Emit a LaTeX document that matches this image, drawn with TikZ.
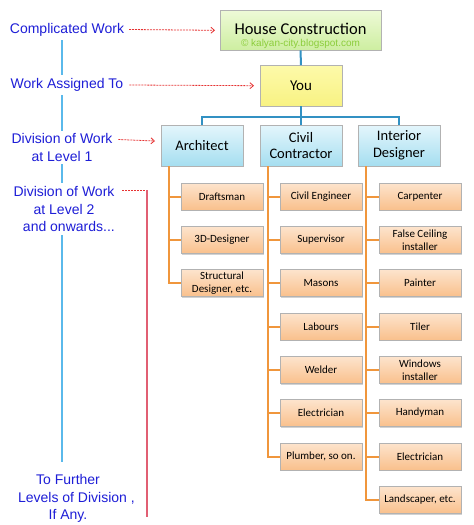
\documentclass[tikz,border=0pt]{standalone}
\usepackage{fontspec}
\setmainfont{Carlito}
\newfontfamily\arialf{Liberation Sans}
\usetikzlibrary{arrows.meta,shadows}
\definecolor{lblue}{RGB}{30,30,215}
\definecolor{vline}{RGB}{90,185,235}
\definecolor{redd}{RGB}{230,50,50}
\definecolor{pinkl}{RGB}{225,95,115}
\definecolor{steel}{RGB}{50,145,195}
\definecolor{orl}{RGB}{240,150,60}
\definecolor{wmark}{RGB}{140,205,60}
\tikzset{
  every node/.style={inner sep=0pt, outer sep=0pt},
  lab/.style={text=lblue, font=\arialf\fontsize{14}{17.5}\selectfont, align=center, fill=white, inner sep=3pt},
  hcbox/.style={draw=black!30, line width=0.6pt, top color={rgb,255:red,238;green,250;blue,215}, bottom color={rgb,255:red,205;green,238;blue,160}, minimum width=161pt, minimum height=40pt, drop shadow={shadow xshift=1pt, shadow yshift=-1pt, opacity=0.3}},
  youbox/.style={draw=black!30, line width=0.6pt, top color={rgb,255:red,253;green,250;blue,170}, bottom color={rgb,255:red,248;green,242;blue,130}, minimum width=82pt, minimum height=41pt, font=\fontsize{15}{17}\selectfont, drop shadow={shadow xshift=1pt, shadow yshift=-1pt, opacity=0.3}},
  lvone/.style={draw=black!30, line width=0.6pt, top color={rgb,255:red,228;green,246;blue,252}, bottom color={rgb,255:red,165;green,222;blue,240}, minimum width=82pt, minimum height=41pt, align=center, font=\fontsize{14.5}{16.7}\selectfont, drop shadow={shadow xshift=1pt, shadow yshift=-1pt, opacity=0.3}},
  lvtwo/.style={draw=black!30, line width=0.6pt, top color={rgb,255:red,253;green,228;blue,205}, bottom color={rgb,255:red,249;green,192;blue,140}, minimum width=82pt, minimum height=27pt, align=center, font=\fontsize{11}{12.7}\selectfont, drop shadow={shadow xshift=1.2pt, shadow yshift=-1.2pt, opacity=0.35}},
  topline/.style={draw=steel, line width=2pt},
  orline/.style={draw=orl, line width=2pt},
  redarr/.style={draw=redd, line width=0.8pt, dash pattern=on 2pt off 1pt, -{Straight Barb[length=3.5pt,width=6pt]}},
  reddash/.style={draw=redd, line width=0.8pt, dash pattern=on 2pt off 1pt},
  pinkline/.style={draw=pinkl, line width=1.2pt},
  blueline/.style={draw=vline, line width=1.3pt},
}
\begin{document}
\begin{tikzpicture}[x=1pt,y=-1pt]
\useasboundingbox[fill=white] (0,0) rectangle (474,525);

% left vertical guide line
\coordinate (vt) at (62,40);
\coordinate (vb) at (62,462);
\draw[blueline] (vt) -- (vb);

% pink line for level 2 onwards
\coordinate (r1) at (122,190);
\coordinate (r2) at (147,190);
\coordinate (r3) at (147,517);
\draw[reddash] (r1) -- (r2);
\draw[pinkline] (r2) -- (r3);

% left labels
\node[lab] (cw) at (67,29.5) {Complicated Work};
\node[lab] (wa) at (67,85) {Work Assigned To};
\node[lab] (d1) at (62,147.5) {Division of Work\\at Level 1};
\node[lab] (d2) at (64,209) {Division of Work\\at Level 2\\\hspace*{0.7em}and onwards...};
\node[lab] (fl) at (68,498.5) {To Further\\\hspace*{1.2em}Levels of Division ,\\If Any.};

% tree
\node[hcbox] (hc) at (300.5,30.3) {};
\node[font=\fontsize{16.5}{18}\selectfont] (hct) at (300.5,29) {House Construction};
\node[font=\arialf\fontsize{10}{12}\selectfont, text=wmark] (wm) at (300.5,43.5) {\textcopyright{} kalyan-city.blogspot.com};
\node[youbox] (you) at (301,85.7) {You};

\node[lvone] (arch) at (202,145.5) {Architect};
\node[lvone] (civ) at (301,145.5) {Civil\\Contractor};
\node[lvone] (int) at (399,145.5) {Interior\\Designer};

\coordinate (bus) at (301,117);
\draw[topline] (hc.south) -- (you.north);
\draw[topline] (you.south) -- (bus);
\draw[topline] (arch.north) |- (bus) -| (int.north);
\draw[topline] (bus) -- (civ.north);

% level 2 boxes
\node[lvtwo] (a1) at (222,196.5) {Draftsman};
\node[lvtwo] (a2) at (222,240) {3D-Designer};
\node[lvtwo] (a3) at (222,283) {Structural\\Designer, etc.};

\node[lvtwo] (c1) at (321,196.5) {Civil Engineer};
\node[lvtwo] (c2) at (321,240) {Supervisor};
\node[lvtwo] (c3) at (321,283) {Masons};
\node[lvtwo] (c4) at (321,326.5) {Labours};
\node[lvtwo] (c5) at (321,370) {Welder};
\node[lvtwo] (c6) at (321,413) {Electrician};
\node[lvtwo] (c7) at (321,456.5) {Plumber, so on.};

\node[lvtwo] (i1) at (420,196.5) {Carpenter};
\node[lvtwo] (i2) at (420,240) {False Ceiling\\installer};
\node[lvtwo] (i3) at (420,283) {Painter};
\node[lvtwo] (i4) at (420,326.5) {Tiler};
\node[lvtwo] (i5) at (420,370) {Windows\\installer};
\node[lvtwo] (i6) at (420,413) {Handyman};
\node[lvtwo] (i7) at (420,456.5) {Electrician};
\node[lvtwo] (i8) at (420,500) {Landscaper, etc.};

% orange connectors
\begin{scope}[on background layer/.try]
\end{scope}
\foreach \c in {a1,a2,a3} \draw[orline] ([xshift=8pt]arch.south west) |- (\c.west);
\foreach \c in {c1,c2,c3,c4,c5,c6,c7} \draw[orline] ([xshift=8pt]civ.south west) |- (\c.west);
\foreach \c in {i1,i2,i3,i4,i5,i6,i7,i8} \draw[orline] ([xshift=8pt]int.south west) |- (\c.west);

% red arrows
\draw[redarr] ([xshift=2pt]cw.east) -- ([xshift=-5pt]hc.west);
\draw[redarr] ([xshift=3pt]wa.east) -- ([xshift=-6pt]you.west);
\draw[redarr] ([xshift=3pt,yshift=8pt]d1.east) -- ([xshift=-6pt,yshift=4.5pt]arch.west);
\end{tikzpicture}
\end{document}
